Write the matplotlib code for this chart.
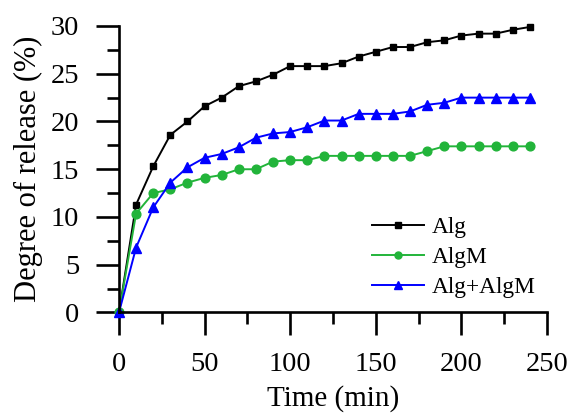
import matplotlib
matplotlib.use("Agg")
import matplotlib.pyplot as plt
from matplotlib.ticker import MultipleLocator

time = [0, 10, 20, 30, 40, 50, 60, 70, 80, 90, 100, 110, 120, 130, 140, 150,
        160, 170, 180, 190, 200, 210, 220, 230, 240]
alg = [0, 11.3, 15.3, 18.6, 20.0, 21.6, 22.5, 23.7, 24.2, 24.9, 25.8, 25.8, 25.8,
       26.1, 26.8, 27.3, 27.8, 27.8, 28.3, 28.5, 29.0, 29.2, 29.2, 29.6, 29.9]
algm = [0, 10.35, 12.5, 12.9, 13.6, 14.1, 14.4, 15.0, 15.0, 15.8, 15.95, 15.95, 16.4,
        16.4, 16.4, 16.4, 16.4, 16.4, 16.9, 17.4, 17.4, 17.4, 17.4, 17.4, 17.4]
alg_algm = [0, 6.8, 11.0, 13.6, 15.2, 16.2, 16.6, 17.3, 18.3, 18.75, 18.9, 19.4, 20.1,
            20.1, 20.8, 20.8, 20.8, 21.05, 21.75, 21.96, 22.5, 22.5, 22.5, 22.5, 22.5]
labels = ["Alg", "AlgM", "Alg+AlgM"]

plt.rcParams['font.family'] = ['Liberation Serif', 'DejaVu Serif']

fig = plt.figure(figsize=(5.72, 4.18), dpi=100)
ax = fig.add_axes([0.208, 0.2524, 0.7483, 0.6854])

ax.plot(time, alg, color='black', marker='s', markersize=5, linewidth=1.4, label=labels[0])
ax.plot(time, algm, color='#22b43a', marker='o', markersize=6.3, linewidth=1.4, label=labels[1])
ax.plot(time, alg_algm, color='#0000ff', marker='^', markersize=7, linewidth=1.4, label=labels[2])

ax.set_xlim(0, 250)
ax.set_ylim(0, 30)
ax.xaxis.set_major_locator(MultipleLocator(50))
ax.xaxis.set_minor_locator(MultipleLocator(25))
ax.yaxis.set_major_locator(MultipleLocator(5))
ax.yaxis.set_minor_locator(MultipleLocator(2.5))

for s in ['top', 'right']:
    ax.spines[s].set_visible(False)
for s in ['left', 'bottom']:
    ax.spines[s].set_linewidth(1.9)

ax.tick_params(which='major', direction='out', length=16.5, width=1.9, labelsize=20.5)
ax.tick_params(axis='x', which='major', pad=12)
ax.tick_params(axis='y', which='major', pad=12)
ax.tick_params(which='minor', direction='out', length=8.3, width=1.9)

ax.set_xlabel("Time (min)", fontsize=21, labelpad=6)
ax.set_ylabel("Degree of release (%)", fontsize=22, labelpad=6)

leg = ax.legend(loc='lower right', bbox_to_anchor=(1.012, -0.008), frameon=False, fontsize=16.8,
                handlelength=2.2, handletextpad=0.35, labelspacing=0.38, borderaxespad=0.3,
                markerscale=0.8)

for line in ax.lines:
    line.set_clip_on(False)

fig.savefig("out.png", dpi=100)
